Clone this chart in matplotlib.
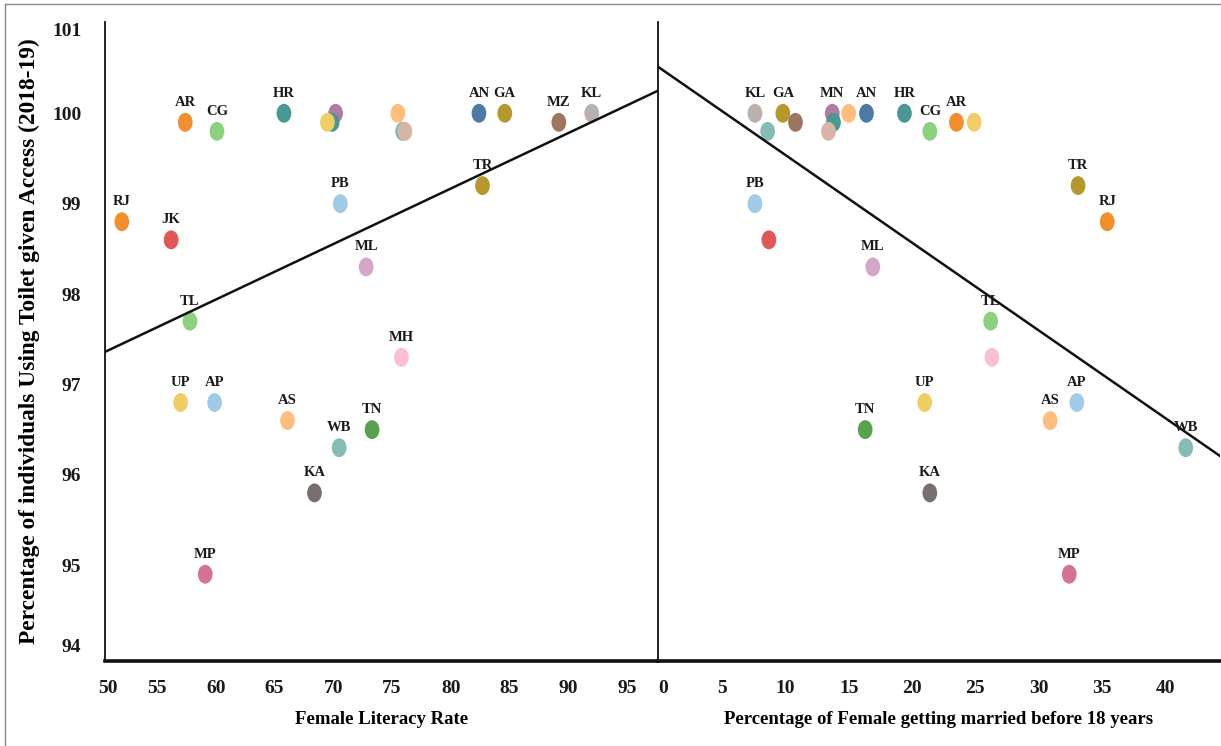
import matplotlib
matplotlib.use("Agg")
import matplotlib.pyplot as plt
import numpy as np
from matplotlib.path import Path
from matplotlib.transforms import Affine2D
from matplotlib.lines import Line2D

# ---------------- data ----------------
states = ["RJ", "JK", "AR", "CG", "TL", "UP", "AP", "MP", "HR", "AS", "KA", "WB", "PB",
          "MN", "UK", "GJ", "TN", "ML", "SK", "HP", "NL", "MH", "TR", "AN", "GA", "MZ", "KL"]
toilet_use = [98.8, 98.6, 99.9, 99.8, 97.7, 96.8, 96.8, 94.9, 100.0, 96.6, 95.8, 96.3, 99.0,
              100.0, 99.9, 99.9, 96.5, 98.3, 100.0, 99.8, 99.8, 97.3, 99.2, 100.0, 100.0, 99.9, 100.0]
female_literacy = [52.0, 56.2, 57.4, 60.1, 57.8, 57.0, 59.9, 59.1, 65.8, 66.1, 68.4, 70.5, 70.6,
                   70.2, 69.9, 69.5, 73.3, 72.8, 75.5, 75.9, 76.1, 75.8, 82.7, 82.4, 84.6, 89.2, 92.0]
married_before_18 = [35.4, 8.7, 23.5, 21.4, 26.2, 21.0, 33.0, 32.4, 19.4, 30.9, 21.4, 41.6, 7.6,
                     13.7, 13.8, 24.9, 16.3, 16.9, 15.0, 8.6, 13.4, 26.3, 33.1, 16.4, 9.8, 10.8, 7.6]
colors = ["#f28e2b", "#e15759", "#f28e2b", "#8cd17d", "#8cd17d", "#f1ce63", "#a0cbe8", "#d37295",
          "#499894", "#ffbe7d", "#79706e", "#86bcb6", "#a0cbe8", "#b07aa1", "#499894", "#f1ce63",
          "#59a14f", "#d4a6c8", "#ffbe7d", "#86bcb6", "#d7b5a6", "#fabfd2", "#b6992d", "#4e79a7",
          "#b6992d", "#9d7660", "#bab0ac"]
left_unlabeled = ["MN", "UK", "GJ", "SK", "HP", "NL"]
right_unlabeled = ["HP", "MZ", "UK", "NL", "SK", "GJ", "JK", "MH"]

# trend lines (slope, intercept)
left_trend = (0.0614, 94.255)
right_trend = (-0.0971, 100.51)

left_xticks = [55, 60, 65, 70, 75, 80, 85, 90, 95]
right_xticks = [0, 5, 10, 15, 20, 25, 30, 35, 40]
yticks = [94, 95, 96, 97, 98, 99, 100, 101]

xlabel_left = "Female Literacy Rate"
xlabel_right = "Percentage of Female getting married before 18 years"
ylabel = "Percentage of individuals Using Toilet given Access (2018-19)"

# ---------------- figure ----------------
W, H = 1221, 746
fig = plt.figure(figsize=(W / 100, H / 100), dpi=100)
fig.patch.set_facecolor("white")

SERIF = ["Liberation Serif", "DejaVu Serif"]

def px(x0, y0, x1, y1):
    return [x0 / W, 1 - y1 / H, (x1 - x0) / W, (y1 - y0) / H]

axL = fig.add_axes(px(105, 22, 658, 661))
axR = fig.add_axes(px(658, 22, 1220, 661))

ell = Path.unit_circle().transformed(Affine2D().scale(0.78, 1.0))

def draw_panel(ax, xs, unlabeled, trend, xlim):
    ax.set_xlim(*xlim)
    ax.set_ylim(93.94, 101.01)
    ax.scatter(xs, toilet_use, s=185, marker=ell, c=colors, linewidths=0, zorder=3)
    for st, x, y in zip(states, xs, toilet_use):
        if st in unlabeled:
            continue
        ax.annotate(st, (x, y), xytext=(0, 14.5), textcoords="offset points",
                    ha="center", va="center", fontsize=10.5, fontweight="bold",
                    family=SERIF, color="#1a1a1a", zorder=5)
    xx = np.array(xlim)
    ax.plot(xx, trend[0] * xx + trend[1], color="#111111", lw=1.8, zorder=4)
    for s in ("top", "right"):
        ax.spines[s].set_visible(False)
    ax.spines["bottom"].set_linewidth(2.6)
    ax.spines["bottom"].set_color("#111111")
    ax.spines["left"].set_linewidth(1.3)
    ax.spines["left"].set_color("#111111")
    ax.tick_params(axis="both", length=0)
    ax.tick_params(axis="x", pad=14)
    ax.tick_params(axis="y", pad=17)

draw_panel(axL, female_literacy, left_unlabeled, left_trend, (50.57, 97.64))
draw_panel(axR, married_before_18, right_unlabeled, right_trend, (-0.05, 44.3))

axL.set_xticks(left_xticks)
axL.set_xticklabels([str(v) for v in left_xticks])
axL.set_yticks(yticks)
axL.set_yticklabels([str(v) for v in yticks])
axR.set_xticks(right_xticks)
axR.set_xticklabels([str(v) for v in right_xticks])
axR.set_yticks([])

for lab in axL.get_xticklabels() + axR.get_xticklabels() + axL.get_yticklabels():
    lab.set_family(SERIF)
    lab.set_fontweight("bold")
    lab.set_fontsize(14)
    lab.set_color("#1a1a1a")
ylabs = axL.get_yticklabels()
ylabs[-1].set_va("top")
ylabs[0].set_va("bottom")
axR.get_xticklabels()[0].set_ha("left")

# the "50" label sits at the left edge of the literacy axis
axL.annotate("50", xy=(0.006, 0), xycoords="axes fraction", xytext=(0, -14),
             textcoords="offset points", ha="center", va="top", fontsize=14,
             fontweight="bold", family=SERIF, color="#1a1a1a")

axL.set_xlabel(xlabel_left, fontsize=13.5, fontweight="bold", family=SERIF, labelpad=10)
axR.set_xlabel(xlabel_right, fontsize=13.5, fontweight="bold", family=SERIF, labelpad=10)
axL.set_ylabel(ylabel, fontsize=16.8, fontweight="bold", family=SERIF, labelpad=9)

# thin frame on the top and left of the image
fig.add_artist(Line2D([5 / W, 5 / W], [0, 1 - 4 / H], color="#888888", lw=1.0))
fig.add_artist(Line2D([5 / W, 1], [1 - 4 / H, 1 - 4 / H], color="#888888", lw=1.0))

fig.savefig("out.png", dpi=100, facecolor="white")
